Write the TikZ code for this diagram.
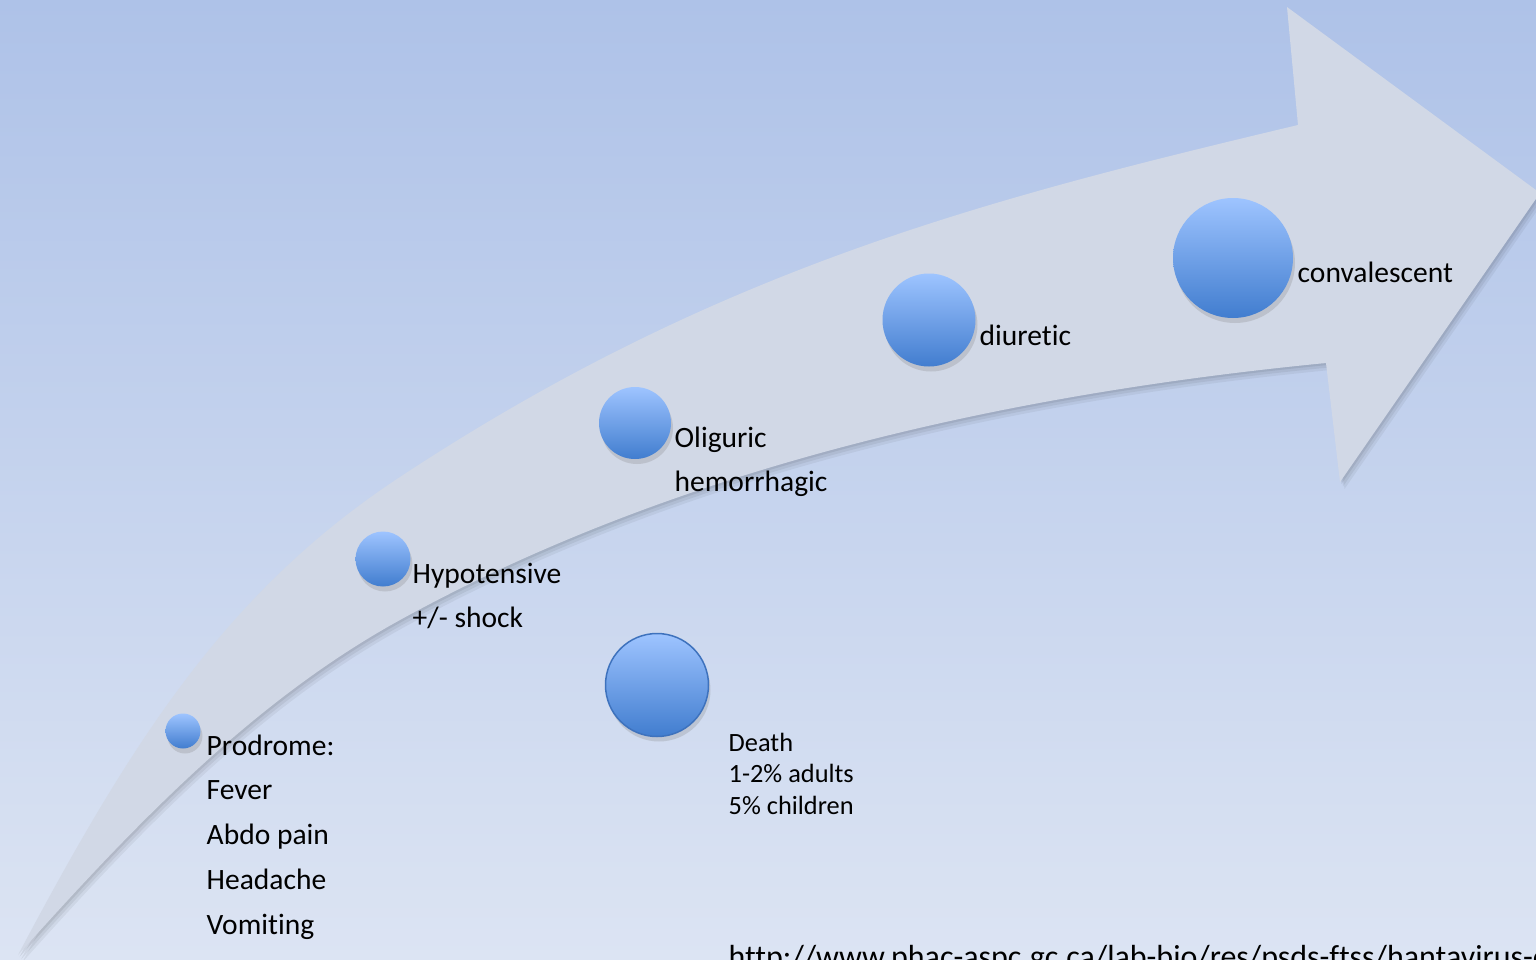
\documentclass[tikz,border=0pt]{standalone}
\usepackage{fontspec}
\setmainfont{Carlito}[Ligatures={NoCommon}]
\usetikzlibrary{shadows, positioning}
\definecolor{bgtop}{HTML}{AEC2E8}
\definecolor{bgbot}{HTML}{DCE4F3}
\definecolor{arrowfill}{HTML}{D1D8E6}
\definecolor{balltop}{HTML}{9EC4FF}
\definecolor{ballbot}{HTML}{417DCF}
\definecolor{ballrim}{HTML}{3E72BD}
\tikzstyle{ball} = [circle, inner sep = 0pt, top color=balltop, bottom color=ballbot, drop shadow={shadow xshift=0.2mm, shadow yshift=-0.5mm, opacity=0.25}]
\tikzstyle{phase} = [anchor=base west, inner sep = 0pt, font=\fontsize{8.4pt}{12.8pt}\selectfont]
\tikzstyle{small} = [anchor=base west, inner sep = 0pt, font=\fontsize{7.5pt}{9.1pt}\selectfont]
\newcommand{\hfrsarrow}{(18,955) .. controls (135,734) and (230,589) .. (400,477)
  .. controls (717,268) and (987,199) .. (1298,125) -- (1287,7) -- (1540,193)
  -- (1340,482) -- (1326,363) .. controls (1008,394) and (680,466) .. (400,620)
  .. controls (251,702) and (132,828) .. (18,955) -- cycle}
\begin{document}
\begin{tikzpicture}[x=0.1mm, y=-0.1mm]
	\useasboundingbox (0,0) rectangle (1536,960);
	\shade[top color=bgtop, bottom color=bgbot] (0,0) rectangle (1536,960);

	\fill[black, opacity=0.05] [xshift=0.45mm, yshift=-0.7mm] \hfrsarrow;
	\fill[black, opacity=0.06] [xshift=0.3mm, yshift=-0.45mm] \hfrsarrow;
	\fill[black, opacity=0.07] [xshift=0.15mm, yshift=-0.2mm] \hfrsarrow;
	\fill[arrowfill] \hfrsarrow;

	\node [ball, minimum size=3.5mm] (prodrome) at (183,731) {};
	\node [ball, minimum size=5.5mm] (hypo) at (383,559) {};
	\node [ball, minimum size=7.2mm] (olig) at (635,423) {};
	\node [ball, minimum size=9.3mm] (diur) at (929,320) {};
	\node [ball, minimum size=12mm] (conv) at (1233,258) {};
	\node [ball, minimum size=10.3mm, draw=ballrim, line width=0.15mm] (death) at (657,685) {};

	\node [phase] (prodrometext) at (206,755) {\parbox[t]{3cm}{Prodrome:\\Fever\\Abdo pain\\Headache\\Vomiting}};
	\node [phase] (hypotext) at (412,583) {\parbox[t]{3cm}{Hypotensive\\+/- shock}};
	\node [phase] (oligtext) at (674,447) {\parbox[t]{3cm}{Oliguric\\hemorrhagic}};
	\node [phase] (diurtext) at (979,345) {diuretic};
	\node [phase] (convtext) at (1297,282) {convalescent};
	\node [small] (deathtext) at (728,751) {\parbox[t]{3cm}{Death\\1-2\% adults\\5\% children}};
	\node [anchor=base west, inner sep = 0pt, font=\fontsize{9.1pt}{11pt}\selectfont] (source) at (728,967) {http://www.phac-aspc.gc.ca/lab-bio/res/psds-ftss/hantavirus-eng.php};
\end{tikzpicture}
\end{document}
